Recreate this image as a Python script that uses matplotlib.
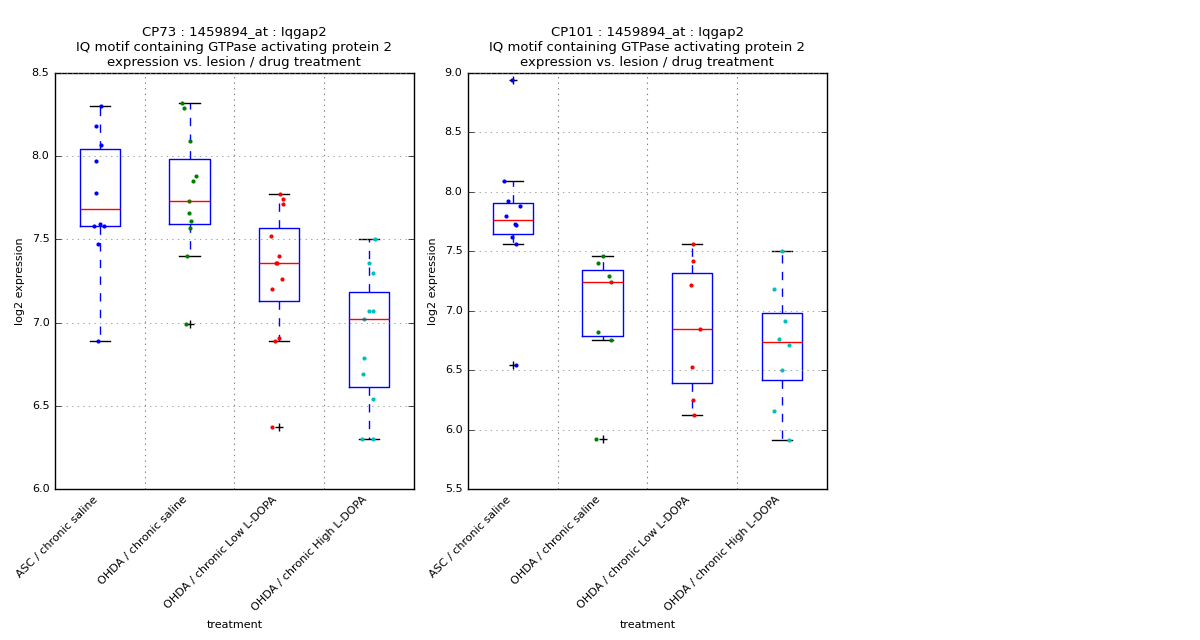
import matplotlib
matplotlib.use("Agg")
import matplotlib.pyplot as plt

plt.style.use('classic')

categories = ["ASC / chronic saline", "OHDA / chronic saline",
              "OHDA / chronic Low L-DOPA", "OHDA / chronic High L-DOPA"]
colors = ['b', 'g', 'r', 'c']

cp73 = [
    [8.30, 8.18, 8.07, 7.97, 7.78, 7.59, 7.58, 7.58, 7.47, 6.89],
    [8.32, 8.29, 8.09, 7.88, 7.85, 7.73, 7.66, 7.61, 7.57, 7.40, 6.99],
    [7.77, 7.74, 7.71, 7.52, 7.40, 7.36, 7.36, 7.26, 7.20, 6.91, 6.89, 6.37],
    [7.50, 7.36, 7.30, 7.07, 7.07, 7.02, 6.79, 6.69, 6.54, 6.30, 6.30],
]
cp73_jitter = [
    [0.01, -0.04, 0.01, -0.04, -0.04, 0.0, -0.06, 0.05, -0.02, -0.02],
    [-0.08, -0.06, 0.0, 0.07, 0.04, -0.01, -0.01, 0.02, -0.0, -0.03, -0.04],
    [0.01, 0.04, 0.04, -0.09, -0.0, -0.04, -0.03, 0.03, -0.08, 0.0, -0.05, -0.08],
    [0.07, 0.0, 0.05, 0.0, 0.05, -0.05, -0.05, -0.07, 0.05, -0.08, 0.05],
]
cp101 = [
    [8.94, 8.09, 7.92, 7.88, 7.80, 7.73, 7.72, 7.62, 7.56, 6.54],
    [7.46, 7.40, 7.29, 7.24, 6.82, 6.75, 5.92],
    [7.56, 7.42, 7.22, 6.85, 6.53, 6.25, 6.12],
    [7.50, 7.18, 6.91, 6.76, 6.71, 6.50, 6.16, 5.91],
]
cp101_jitter = [
    [-0.01, -0.1, -0.05, 0.08, -0.08, 0.02, 0.03, -0.01, 0.03, 0.03],
    [0.0, -0.05, 0.07, 0.09, -0.05, 0.09, -0.07],
    [0.01, 0.01, -0.01, 0.09, 0.0, 0.01, 0.02],
    [0.0, -0.09, 0.03, -0.03, 0.08, 0.0, -0.09, 0.08],
]

panels = [("CP73", cp73, cp73_jitter, (6.0, 8.5)),
          ("CP101", cp101, cp101_jitter, (5.5, 9.0))]

fig = plt.figure(figsize=(12, 6.4), dpi=100, facecolor='white')
lefts = [0.0458, 0.39]
for (name, data, jit, ylim), left in zip(panels, lefts):
    ax = fig.add_axes([left, 0.236, 0.299, 0.65])
    ax.boxplot(data, positions=range(1, len(data) + 1), widths=0.45)
    for i, (vals, js) in enumerate(zip(data, jit)):
        ax.plot([i + 1 + j for j in js], vals, '.', color=colors[i],
                markersize=6, markeredgewidth=0)
    ax.set_xlim(0.5, 4.5)
    ax.set_ylim(*ylim)
    ax.grid(True, axis='y', color='gray')
    for xv in (1.5, 2.5, 3.5):
        ax.axvline(xv, color='gray', linestyle=':', linewidth=0.8, zorder=0)
    ax.set_xticks(range(1, 5))
    ax.set_xticklabels(categories, rotation=45, ha='right', fontsize=8)
    ax.tick_params(axis='x', length=0)
    ax.tick_params(axis='y', labelsize=8)
    ax.set_xlabel("treatment", fontsize=8)
    ax.set_ylabel("log2 expression", fontsize=8)
    ax.set_title(f"{name} : 1459894_at : Iqgap2\nIQ motif containing GTPase activating protein 2\nexpression vs. lesion / drug treatment",
                 fontsize=9.5)

fig.savefig("out.png", dpi=100, facecolor='white')
